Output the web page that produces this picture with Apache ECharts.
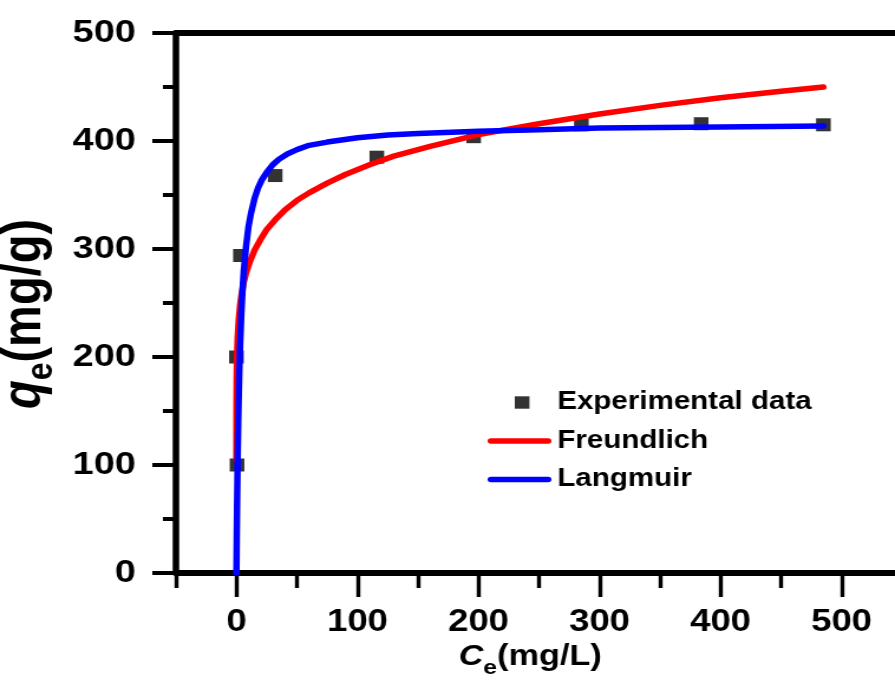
<!DOCTYPE html>
<html>
<head>
<meta charset="utf-8">
<title>Adsorption isotherm</title>
<script src="https://cdn.jsdelivr.net/npm/echarts@6/dist/echarts.min.js"></script>
<style>
  html, body { margin: 0; padding: 0; background: #fff; overflow: hidden; }
  #wrap { width: 895px; height: 689px; overflow: hidden; }
  /* the plot is laid out in a narrower box and widened, giving the broad lettering */
  #chart { width: 758px; height: 689px; transform: scaleX(1.1807); transform-origin: 0 0; }
</style>
</head>
<body>
<div id="wrap"><div id="chart"></div></div>
<script>
// Equilibrium data: Ce (mg/L) and qe (mg/g)
const expCe = [0.5, 0.0, 3.3, 32, 116, 196, 285, 384, 485];
const expQe = [100, 200, 294, 368, 385, 404, 415, 416, 415];

// Freundlich fit curve
const freCe = [0.002, 0.01, 0.05, 0.2, 0.5, 1, 2, 3, 4, 6, 8, 11, 15, 20, 25, 32, 40, 50, 60, 75, 90, 110, 130, 160, 200, 250, 300, 350, 400, 450, 485];
const freQe = [105, 127, 153, 180, 201, 218, 236, 248, 256, 269, 278, 288, 299, 309, 318, 327, 336, 345, 352, 361, 369, 378, 386, 395, 406, 416, 425, 433, 440, 446, 450];

// Langmuir fit curve
const lanCe = [0, 0.25, 0.5, 1, 1.5, 2, 2.5, 3, 4, 5, 6, 8, 10, 12, 15, 18, 21, 25, 30, 35, 42, 50, 60, 75, 100, 125, 150, 200, 250, 300, 400, 485];
const lanQe = [0, 33, 60, 105, 140, 168, 191, 210, 239, 261, 279, 303, 321, 333, 347, 357, 364, 371, 378, 383, 388, 392, 396, 399, 403, 405.5, 407, 409, 410.5, 412, 413, 414];

// Axis ticks
const xMajorTicks = [0, 100, 200, 300, 400, 500];
const xMinorTicks = [-50, 50, 150, 250, 350, 450, 550];
const yMajorTicks = [0, 100, 200, 300, 400, 500];

const seriesNames = ['Experimental data', 'Freundlich', 'Langmuir'];

const FONT = '"Liberation Sans", Arial, Helvetica, sans-serif';
const pairs = (xs, ys) => xs.map((x, i) => [x, ys[i]]);

// legend glyphs: a small square, and a short round-ended stroke
const squareIcon = 'path://M0,0M54,14M23,0.8h12.4v12.4h-12.4z';
const strokeIcon = 'path://M0,0M54,14M2.8,4.2h48.4a2.8,2.8 0 0 1 0,5.6h-48.4a2.8,2.8 0 0 1 0,-5.6z';

const chart = echarts.init(document.getElementById('chart'));

const xRange = { min: -50, max: 550 };

chart.setOption({
  backgroundColor: '#ffffff',
  animation: false,
  grid: { left: 149, right: -6, top: 33, bottom: 116, containLabel: false, outerBoundsMode: 'none' },
  legend: {
    orient: 'vertical',
    left: 413,
    top: 390,
    padding: 0,
    itemWidth: 54,
    itemHeight: 14,
    itemGap: 13.5,
    selectedMode: false,
    textStyle: { fontFamily: FONT, fontWeight: 'bold', fontSize: 25, color: '#000', lineHeight: 25 },
    data: [
      { name: seriesNames[0], icon: squareIcon },
      { name: seriesNames[1], icon: strokeIcon },
      { name: seriesNames[2], icon: strokeIcon }
    ]
  },
  xAxis: [
    {
      type: 'value', position: 'bottom', ...xRange,
      axisLine: { show: true, onZero: false, lineStyle: { color: '#000', width: 6 } },
      axisTick: { show: true, customValues: xMajorTicks, length: 24, lineStyle: { color: '#000', width: 3.4 } },
      axisLabel: {
        show: true, customValues: xMajorTicks, margin: 34,
        fontFamily: FONT, fontWeight: 'bold', fontSize: 31, color: '#000'
      },
      splitLine: { show: false },
      name: '{c|C}{e|e}{t|(mg/L)}',
      nameLocation: 'middle',
      nameGap: 62,
      nameTextStyle: {
        padding: [0, 15, 0, 0],
        rich: {
          c: { fontFamily: FONT, fontWeight: 'bold', fontStyle: 'italic', fontSize: 29, color: '#000', lineHeight: 42 },
          e: { fontFamily: FONT, fontWeight: 'bold', fontSize: 21, color: '#000', lineHeight: 21, verticalAlign: 'bottom' },
          t: { fontFamily: FONT, fontWeight: 'bold', fontSize: 29, color: '#000', lineHeight: 42 }
        }
      }
    },
    {
      // shorter ticks halfway between the labelled ones
      type: 'value', position: 'bottom', ...xRange,
      axisLine: { show: false },
      axisTick: { show: true, customValues: xMinorTicks, length: 15, lineStyle: { color: '#000', width: 3.4 } },
      axisLabel: { show: false },
      splitLine: { show: false }
    },
    {
      // upper frame line
      type: 'value', position: 'top', ...xRange,
      axisLine: { show: true, onZero: false, lineStyle: { color: '#000', width: 6 } },
      axisTick: { show: false },
      axisLabel: { show: false },
      splitLine: { show: false }
    }
  ],
  yAxis: {
    type: 'value', min: 0, max: 500, interval: 100,
    axisLine: { show: true, onZero: false, lineStyle: { color: '#000', width: 5.5 } },
    axisTick: { show: true, customValues: yMajorTicks, length: 20, lineStyle: { color: '#000', width: 4 } },
    minorTick: { show: true, splitNumber: 2, length: 11, lineStyle: { color: '#000', width: 4 } },
    axisLabel: {
      show: true, customValues: yMajorTicks, margin: 34,
      padding: [0, 0, 6, 0],
      fontFamily: FONT, fontWeight: 'bold', fontSize: 32, color: '#000'
    },
    splitLine: { show: false },
    minorSplitLine: { show: false },
    name: '{q|q}{e|e}{t|(mg/g)}',
    nameLocation: 'middle',
    nameRotate: 90,
    nameGap: 94,
    nameTextStyle: {
      padding: [0, 22, 0, 0],
      rich: {
        q: { fontFamily: FONT, fontWeight: 'bold', fontStyle: 'italic', fontSize: 47, color: '#000', lineHeight: 60 },
        e: { fontFamily: FONT, fontWeight: 'bold', fontSize: 32, color: '#000', lineHeight: 32, verticalAlign: 'bottom' },
        t: { fontFamily: FONT, fontWeight: 'bold', fontSize: 47, color: '#000', lineHeight: 60 }
      }
    }
  },
  series: [
    {
      name: seriesNames[0],
      type: 'scatter',
      xAxisIndex: 0,
      symbol: 'rect',
      symbolSize: [12.4, 13],
      itemStyle: { color: '#000' },
      z: 1,
      data: pairs(expCe, expQe)
    },
    {
      name: seriesNames[1],
      type: 'line',
      xAxisIndex: 0,
      symbol: 'none',
      smooth: false,
      lineStyle: { color: '#ff0000', width: 5.5, cap: 'round', join: 'round' },
      itemStyle: { color: '#ff0000' },
      z: 2,
      data: pairs(freCe, freQe)
    },
    {
      name: seriesNames[2],
      type: 'line',
      xAxisIndex: 0,
      symbol: 'none',
      smooth: false,
      lineStyle: { color: '#0000ff', width: 5.5, cap: 'round', join: 'round' },
      itemStyle: { color: '#0000ff' },
      z: 3,
      data: pairs(lanCe, lanQe)
    }
  ]
});
</script>
</body>
</html>
